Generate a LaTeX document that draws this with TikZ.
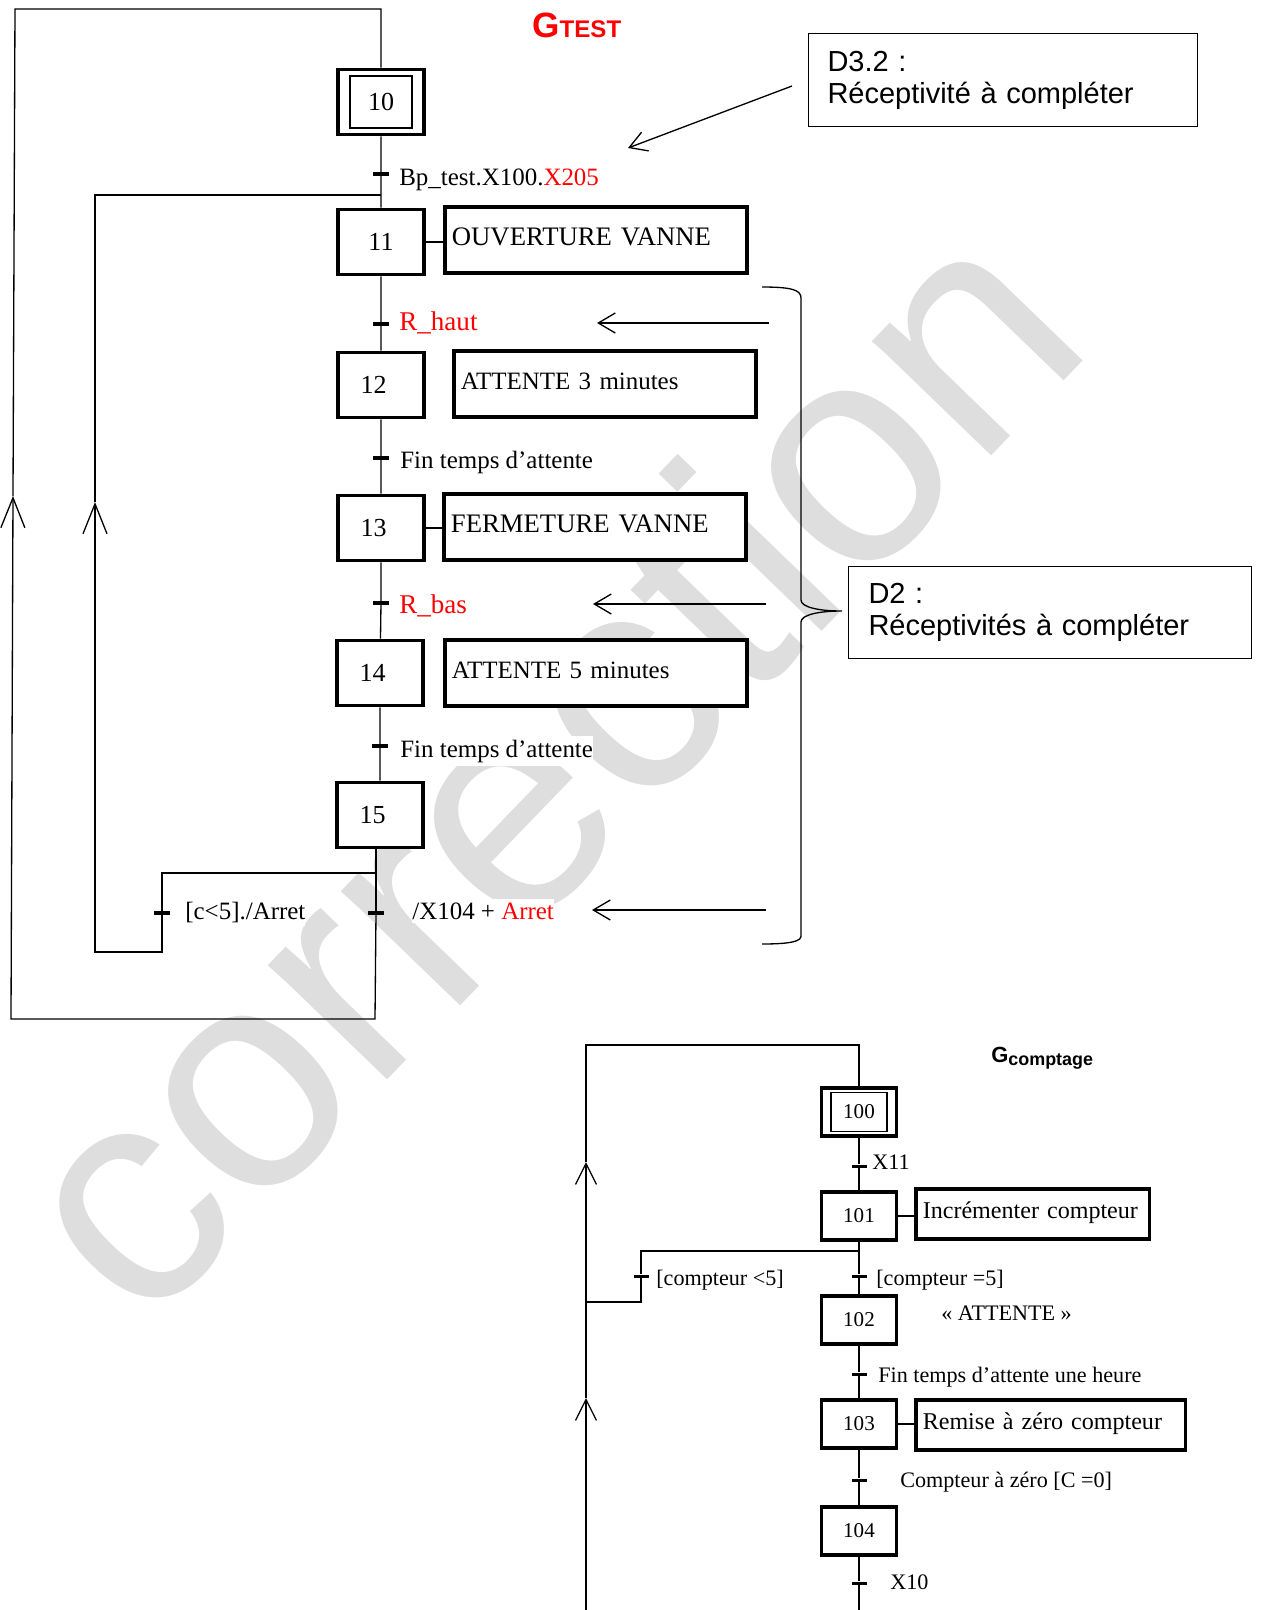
\documentclass[tikz,border=0pt]{standalone}
\usepackage{fontspec}
\setmainfont{Liberation Serif}
\newfontfamily\arialfont{Liberation Sans}
\usetikzlibrary{arrows.meta}

\begin{document}
\begin{tikzpicture}[x=0.02cm,y=-0.02cm,
    link/.style={line width=0.75pt},
    stepbox/.style={draw,line width=2.2pt,fill=white,minimum width=1.72cm,minimum height=1.3cm,inner sep=0pt,font=\fontsize{14.8}{16}\selectfont},
    numleft/.style={text width=0.82cm,align=left,inner xsep=0.45cm},
    initbox/.style={draw,line width=0.9pt,inner sep=0pt},
    smallstep/.style={stepbox,line width=2pt,minimum width=1.5cm,minimum height=0.96cm,font=\fontsize{12}{14}\selectfont},
    act/.style={draw,line width=2.2pt,fill=white,anchor=west,align=left,inner xsep=0.14cm,inner ysep=0pt,text width=5.76cm,text height=0.76cm,text depth=0.56cm,font=\fontsize{15.2}{17}\selectfont},
    smallact/.style={act,line width=2pt,text height=0.58cm,text depth=0.42cm,font=\fontsize{13.7}{16}\selectfont},
    bar/.style={fill=black,minimum width=0.32cm,minimum height=0.07cm,inner sep=0pt},
    smallbar/.style={bar,minimum width=0.3cm,minimum height=0.06cm},
    trans/.style={anchor=base west,fill=white,inner xsep=0pt,inner ysep=2pt,font=\fontsize{14.2}{16}\selectfont},
    redtrans/.style={trans,text=red,font=\fontsize{15.4}{17}\selectfont},
    smalltrans/.style={trans,font=\fontsize{12.6}{15}\selectfont},
    note/.style={draw,line width=0.6pt,anchor=north west,align=left,inner ysep=0pt,font=\arialfont\fontsize{16.5}{18.2}\selectfont},
    pointer/.style={link,-{Straight Barb[length=0.34cm,width=0.4cm]}},
    uparrow/.style={link,-{Straight Barb[length=0.6cm,width=0.48cm]}},
    smalluparrow/.style={link,-{Straight Barb[length=0.42cm,width=0.42cm]}}]

  \useasboundingbox (0,0) rectangle (1269,1610);

  \node[rotate=46,inner sep=0pt,text=black!13,font=\arialfont\fontsize{178}{178}\selectfont] (wm) at (540,762) {correction};

  % G TEST
  \node[anchor=base west,inner sep=0pt,text=red,font=\arialfont\bfseries] (gtest) at (532,37) {\fontsize{20}{20}\selectfont G\fontsize{13.7}{14}\selectfont TEST};

  \node[stepbox]         (s10) at (381,102) {10};
  \node[initbox,minimum width=1.25cm,minimum height=1.05cm] (s10in) at (s10) {};
  \node[stepbox]         (s11) at (381,242) {11};
  \node[stepbox,numleft] (s12) at (381,385) {12};
  \node[stepbox,numleft] (s13) at (381,528) {13};
  \node[stepbox,numleft] (s14) at (380,673) {14};
  \node[stepbox,numleft] (s15) at (380,815) {15};

  \node[act] (a11) at (443,240) {OUVERTURE VANNE};
  \node[act,font=\fontsize{14.2}{16}\selectfont] (a12) at (452,384) {ATTENTE 3 minutes};
  \node[act] (a13) at (442,527) {FERMETURE VANNE};
  \node[act,font=\fontsize{14.2}{16}\selectfont] (a14) at (443,673) {ATTENTE 5 minutes};

  \node[bar] (t10) at (381,174) {};
  \node[bar] (t11) at (381,324) {};
  \node[bar] (t12) at (381,458) {};
  \node[bar] (t13) at (381,603) {};
  \node[bar] (t14) at (380,746) {};
  \node[bar] (t15) at (376,913) {};
  \node[bar] (t15b) at (162,913) {};

  \node[trans]    (r10) at (399,185) {Bp\_test.X100.\textcolor{red}{X205}};
  \node[redtrans] (r11) at (399,330) {R\_haut};
  \node[trans]    (r12) at (400,468) {Fin temps d’attente};
  \node[redtrans] (r13) at (399,613) {R\_bas};
  \node[trans]    (r14) at (400,757) {Fin temps d’attente};
  \node[trans]    (r15) at (412,919) {/X104 + \textcolor{red}{Arret}};
  \node[trans]    (r15b) at (185,919) {[c<5]./Arret};

  \coordinate (lowR) at (375,1019);
  \coordinate (lowL) at (11,1019);
  \coordinate (upA) at (13,496);
  \coordinate (topL) at (15,9);
  \coordinate (topR) at (381,9);
  \coordinate (brA) at (376,873);
  \coordinate (brB) at (162,873);
  \coordinate (brC) at (162,952);
  \coordinate (brD) at (95,952);
  \coordinate (upB) at (95,502);
  \coordinate (brE) at (95,195);
  \coordinate (brF) at (381,195);

  \draw[link] (s10) -- (t10) -- (s11) -- (t11) -- (s12) -- (t12) -- (s13) -- (t13) -- (s14) -- (t14) -- (s15);
  \draw[link] (s15.south -| t15) -- (t15);
  \draw[link] (s11.east) -- (s11.east -| a11.west);
  \draw[link] (s13.east) -- (s13.east -| a13.west);
  \draw[uparrow] (t15) -- (lowR) -- (lowL) -- (upA);
  \draw[link] (upA) -- (topL) -- (topR) -- (s10);
  \draw[link] (brA) -- (brB) -- (t15b);
  \draw[uparrow] (t15b) -- (brC) -- (brD) -- (upB);
  \draw[link] (upB) -- (brE) -- (brF);

  % remarques
  \node[note,text width=7.02cm,inner xsep=0.38cm,minimum height=1.86cm] (d32) at (808,33) {D3.2 :\\Réceptivité à compléter};
  \node[note,text width=7.26cm,inner xsep=0.4cm,minimum height=1.84cm] (d2) at (848,566) {D2 :\\Réceptivités à compléter};

  \coordinate (p32a) at (792,86);  \coordinate (p32b) at (628,148);
  \coordinate (phA) at (769,323);  \coordinate (phB) at (597,323);
  \coordinate (pbA) at (766,604);  \coordinate (pbB) at (593,604);
  \coordinate (paA) at (766,910);  \coordinate (paB) at (592,910);
  \draw[pointer] (p32a) -- (p32b);
  \draw[pointer] (phA) -- (phB);
  \draw[pointer] (pbA) -- (pbB);
  \draw[pointer] (paA) -- (paB);

  \coordinate (btip) at (842,611);
  \draw[link] (762,287) .. controls (792,287) and (801,290) .. (801,298) -- (801,600)
     .. controls (801,607) and (818,611) .. (btip)
     .. controls (818,611) and (801,615) .. (801,622) -- (801,936)
     .. controls (801,941) and (792,944) .. (762,944);

  % G comptage
  \node[anchor=base west,inner sep=0pt,font=\arialfont\bfseries] (gcpt) at (991,1062) {\fontsize{12.5}{13}\selectfont G\fontsize{10.2}{11}\selectfont\raisebox{-0.06cm}{comptage}};

  \node[smallstep] (s100) at (859,1112) {100};
  \node[initbox,minimum width=1.13cm,minimum height=0.78cm] (s100in) at (s100) {};
  \node[smallstep] (s101) at (859,1216) {101};
  \node[smallstep] (s102) at (859,1320) {102};
  \node[smallstep] (s103) at (859,1424) {103};
  \node[smallstep] (s104) at (859,1531) {104};

  \node[smallact,text width=4.4cm]  (a101) at (914,1214) {Incrémenter compteur};
  \node[smallact,text width=5.12cm] (a103) at (914,1425) {Remise à zéro compteur};

  \node[smallbar] (t100) at (859,1166) {};
  \node[smallbar] (t101) at (859,1276) {};
  \node[smallbar] (t101b) at (641,1276) {};
  \node[smallbar] (t102) at (859,1374) {};
  \node[smallbar] (t103) at (859,1480) {};
  \node[smallbar] (t104) at (859,1583) {};

  \node[smalltrans] (r100) at (872,1169) {X11};
  \node[smalltrans] (r101) at (876,1285) {[compteur =5]};
  \node[smalltrans] (r101b) at (656,1285) {[compteur <5]};
  \node[smalltrans] (att102) at (941,1320) {« ATTENTE »};
  \node[smalltrans] (r102) at (878,1382) {Fin temps d’attente une heure};
  \node[smalltrans] (r103) at (900,1487) {Compteur à zéro [C =0]};
  \node[smalltrans] (r104) at (890,1589) {X10};

  \coordinate (cTopL) at (586,1045);
  \coordinate (cTopR) at (859,1045);
  \coordinate (cBotL) at (586,1610);
  \coordinate (cBotR) at (859,1610);
  \coordinate (upC) at (586,1398);
  \coordinate (upD) at (586,1162);
  \coordinate (cbA) at (859,1251);
  \coordinate (cbB) at (641,1251);
  \coordinate (cbC) at (641,1302);
  \coordinate (cbD) at (586,1302);

  \draw[link] (s100) -- (t100) -- (s101) -- (t101) -- (s102) -- (t102) -- (s103) -- (t103) -- (s104) -- (t104) -- (cBotR);
  \draw[link] (s101.east) -- (s101.east -| a101.west);
  \draw[link] (s103.east) -- (s103.east -| a103.west);
  \draw[link] (cbA) -- (cbB) -- (t101b) -- (cbC) -- (cbD);
  \draw[smalluparrow] (cBotL) -- (upC);
  \draw[smalluparrow] (upC) -- (upD);
  \draw[link] (upD) -- (cTopL) -- (cTopR) -- (s100);
\end{tikzpicture}
\end{document}
